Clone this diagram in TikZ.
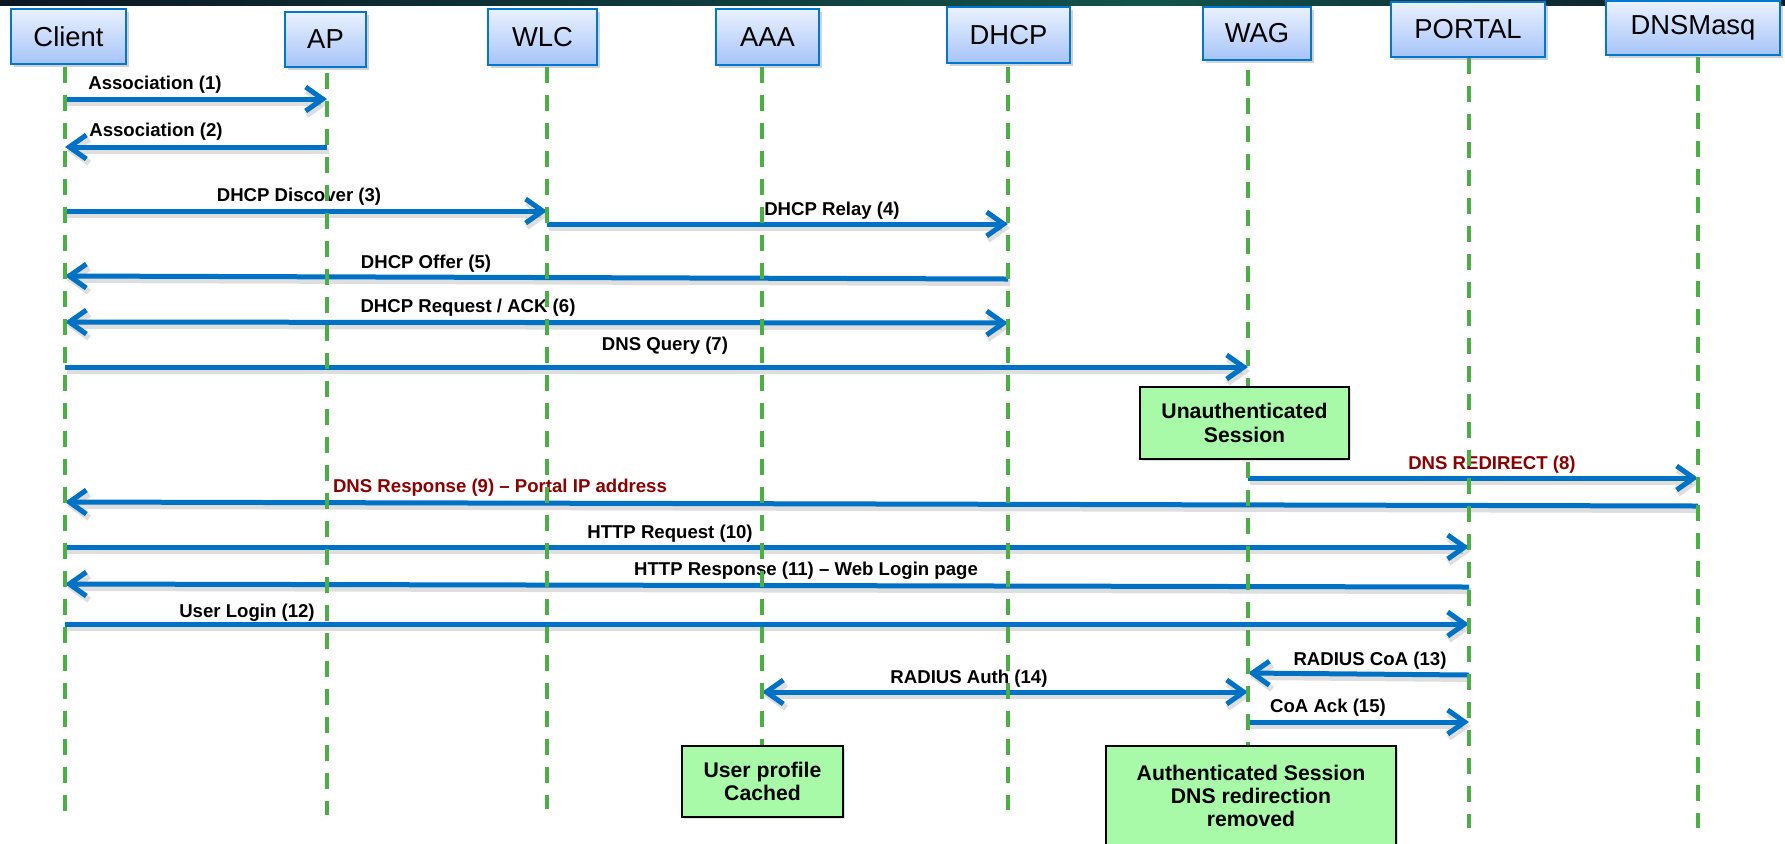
\documentclass[tikz,border=0pt]{standalone}
\usepackage{fontspec}
\setmainfont{Liberation Sans}
\usetikzlibrary{arrows.meta,shadows}
\definecolor{msgblue}{RGB}{0,114,198}
\definecolor{lifegreen}{RGB}{76,175,70}
\definecolor{boxgreen}{RGB}{168,250,168}
\definecolor{hdrborder}{RGB}{0,120,210}
\definecolor{hdrtop}{RGB}{234,241,254}
\definecolor{hdrbot}{RGB}{166,196,248}
\definecolor{redlbl}{RGB}{140,0,0}
\definecolor{stripdark}{RGB}{12,22,36}
\definecolor{stripteal}{RGB}{18,84,76}
\tikzset{
  mybarb/.tip={Straight Barb[length=8.5pt,width=12pt]},
  hdr/.style={draw=hdrborder, line width=1.4pt, top color=hdrtop, bottom color=hdrbot,
    inner sep=0pt, font=\fontsize{13.7}{16}\selectfont,
    drop shadow={shadow xshift=1.5pt, shadow yshift=-1.5pt, opacity=0.35}},
  msg/.style={draw=msgblue, line width=2.5pt, -mybarb,
    preaction={draw=black, draw opacity=0.13, line width=3pt,
      transform canvas={shift={(1pt,-2pt)}}}},
  bimsg/.style={msg, mybarb-mybarb},
  lbl/.style={font=\bfseries\fontsize{9.3}{11}\selectfont, inner sep=0pt},
  redl/.style={lbl, text=redlbl},
  life/.style={draw=lifegreen, line width=2pt, dash pattern=on 8pt off 6pt},
  sess/.style={draw=black, line width=1pt, fill=boxgreen, align=center, inner sep=0pt,
    font=\bfseries\fontsize{10.6}{11.6}\selectfont,
    drop shadow={shadow xshift=1pt, shadow yshift=-1pt, opacity=0.25}}
}
\begin{document}
\begin{tikzpicture}[x=0.5pt,y=-0.5pt]
\useasboundingbox (0,0) rectangle (1785,843);
\fill[white] (0,0) rectangle (1785,843);
% top strip
\shade[left color=stripdark, right color=stripteal] (0,0) rectangle (1150,5);
\shade[left color=stripteal, right color=stripdark] (1150,0) rectangle (1785,5);

% lifeline x positions
\coordinate (Lc) at (65,0);
\coordinate (Lap) at (327,0);
\coordinate (Lwlc) at (547,0);
\coordinate (Laaa) at (762,0);
\coordinate (Ldhcp) at (1008,0);
\coordinate (Lwag) at (1248,0);
\coordinate (Lpor) at (1469,0);
\coordinate (Ldns) at (1698,0);

% messages
\draw[msg] (Lc |- 0,99) -- (Lap |- 0,99);
\node[lbl] (l1) at (155,85) {Association (1)};
\draw[msg] (Lap |- 0,147) -- (Lc |- 0,147);
\node[lbl] (l2) at (156,132) {Association (2)};
\draw[msg] (Lc |- 0,211) -- (Lwlc |- 0,211);
\node[lbl] (l3) at (299,197) {DHCP Discover (3)};
\draw[msg] (Lwlc |- 0,224) -- (Ldhcp |- 0,224);
\node[lbl] (l4) at (832,211) {DHCP Relay (4)};
\draw[msg] (Ldhcp |- 0,279) -- (Lc |- 0,276);
\node[lbl] (l5) at (426,264) {DHCP Offer (5)};
\draw[bimsg] (Lc |- 0,322) -- (Ldhcp |- 0,323);
\node[lbl] (l6) at (468,308) {DHCP Request / ACK (6)};
\draw[msg] (Lc |- 0,367) -- (Lwag |- 0,367);
\node[lbl] (l7) at (665,346) {DNS Query (7)};
\draw[msg] (Lwag |- 0,478) -- (Ldns |- 0,478);
\node[redl] (l8) at (1492,465) {DNS REDIRECT (8)};
\draw[msg] (Ldns |- 0,506) -- (Lc |- 0,502);
\node[redl] (l9) at (500,488) {DNS Response (9) – Portal IP address};
\draw[msg] (Lc |- 0,547) -- (Lpor |- 0,547);
\node[lbl] (l10) at (670,534) {HTTP Request (10)};
\draw[msg] (Lpor |- 0,587) -- (Lc |- 0,584);
\node[lbl] (l11) at (806,571) {HTTP Response (11) – Web Login page};
\draw[msg] (Lc |- 0,624) -- (Lpor |- 0,624);
\node[lbl] (l12) at (247,613) {User Login (12)};
\draw[msg] (Lpor |- 0,675) -- (Lwag |- 0,673);
\node[lbl] (l13) at (1370,661) {RADIUS CoA (13)};
\draw[bimsg] (Laaa |- 0,692) -- (Lwag |- 0,692);
\node[lbl] (l14) at (969,679) {RADIUS Auth (14)};
\draw[msg] (Lwag |- 0,722) -- (Lpor |- 0,722);
\node[lbl] (l15) at (1328,708) {CoA Ack (15)};

% lifelines
\draw[life] (Lc |- 0,67) -- (Lc |- 0,811);
\draw[life] (Lap |- 0,73) -- (Lap |- 0,815);
\draw[life] (Lwlc |- 0,67) -- (Lwlc |- 0,809);
\draw[life] (Laaa |- 0,67) -- (Laaa |- 0,760);
\draw[life] (Ldhcp |- 0,67) -- (Ldhcp |- 0,810);
\draw[life] (Lwag |- 0,70) -- (Lwag |- 0,760);
\draw[life] (Lpor |- 0,58) -- (Lpor |- 0,828);
\draw[life] (Ldns |- 0,57) -- (Ldns |- 0,828);

% header boxes
\node[hdr, minimum width=57.5pt, minimum height=27.5pt] (client) at (68.5,36.5) {Client};
\node[hdr, minimum width=40.5pt, minimum height=27.5pt] (ap) at (325.5,39.5) {AP};
\node[hdr, minimum width=54.5pt, minimum height=28pt] (wlc) at (542.5,37) {WLC};
\node[hdr, minimum width=51.5pt, minimum height=28pt] (aaa) at (767.5,37) {AAA};
\node[hdr, minimum width=61.5pt, minimum height=28pt] (dhcp) at (1008.5,35) {DHCP};
\node[hdr, minimum width=54pt, minimum height=26.5pt] (wag) at (1257,33.5) {WAG};
\node[hdr, minimum width=77pt, minimum height=27.5pt] (portal) at (1468,29.5) {PORTAL};
\node[hdr, minimum width=87pt, minimum height=27pt] (dnsmasq) at (1693,28) {DNSMasq};

% session boxes
\node[sess, minimum width=104.5pt, minimum height=36pt] (unauth) at (1244.5,423) {Unauthenticated\\Session};
\node[sess, minimum width=80.5pt, minimum height=35.5pt] (cached) at (762.5,781.5) {User profile\\Cached};
\node[sess, minimum width=145pt, minimum height=50pt] (authd) at (1251,796) {Authenticated Session\\DNS redirection\\removed};
\end{tikzpicture}
\end{document}
